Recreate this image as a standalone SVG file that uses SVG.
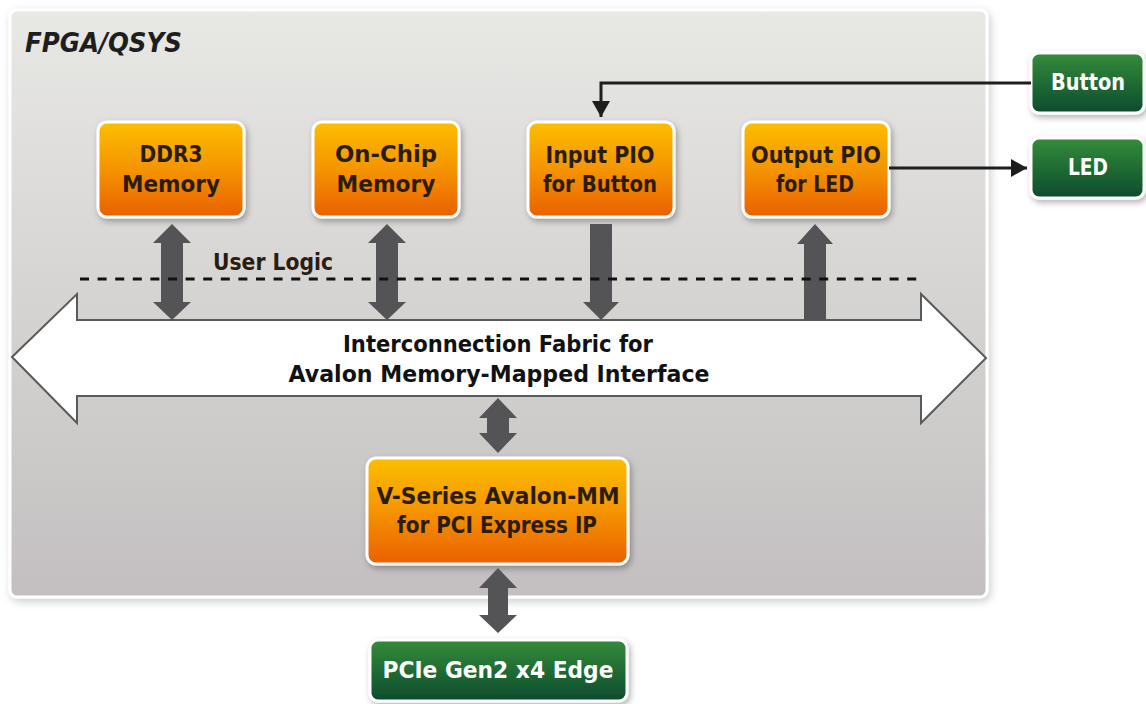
<svg xmlns="http://www.w3.org/2000/svg" width="1146" height="704" viewBox="0 0 1146 704">
  <defs>
    <linearGradient id="gCont" x1="0" y1="0" x2="0" y2="1">
      <stop offset="0" stop-color="#e8e8e5"/>
      <stop offset="1" stop-color="#c3bfc0"/>
    </linearGradient>
    <linearGradient id="gOrange" x1="0" y1="0" x2="0" y2="1">
      <stop offset="0" stop-color="#fcbf00"/>
      <stop offset="0.5" stop-color="#f59400"/>
      <stop offset="1" stop-color="#e96000"/>
    </linearGradient>
    <linearGradient id="gGreen" x1="0" y1="0" x2="0" y2="1">
      <stop offset="0" stop-color="#348c3a"/>
      <stop offset="1" stop-color="#0d4b2e"/>
    </linearGradient>
    <filter id="shadow" x="-10%" y="-10%" width="130%" height="140%">
      <feDropShadow dx="2" dy="3" stdDeviation="3" flood-color="#000" flood-opacity="0.3"/>
    </filter>
    <filter id="shadowC" x="-5%" y="-5%" width="110%" height="110%">
      <feDropShadow dx="2" dy="3" stdDeviation="4" flood-color="#000" flood-opacity="0.2"/>
    </filter>
    <marker id="head" markerUnits="userSpaceOnUse" markerWidth="18" markerHeight="18" refX="16" refY="9" orient="auto">
      <path d="M0,0 L16,9 L0,18 Z" fill="#1e1e1e"/>
    </marker>
  </defs>
  <style>
    .orange { fill: url(#gOrange); stroke: #ffffff; stroke-width: 3; filter: url(#shadow); }
    .green { fill: url(#gGreen); stroke: #ffffff; stroke-width: 3; filter: url(#shadow); }
    .t { font-family: "DejaVu Sans", "Liberation Sans", sans-serif; font-weight: bold; text-anchor: middle; }
    .tb { fill: #2a1c0e; font-size: 23px; }
    .tw { fill: #ffffff; font-size: 23px; }
    .bus { fill: #111111; font-size: 22.5px; }
    .gray { fill: #545457; }
    .wire { fill: none; stroke: #1e1e1e; stroke-width: 3; }
  </style>

  <g id="fpga">
    <rect x="10" y="10" width="977" height="587" rx="7" fill="url(#gCont)" stroke="#ffffff" stroke-width="3" filter="url(#shadowC)"/>
    <text x="25" y="52" font-family="DejaVu Sans, Liberation Sans, sans-serif" font-weight="bold" font-style="italic" font-size="27" fill="#1e1e1e" textLength="157" lengthAdjust="spacingAndGlyphs">FPGA/QSYS</text>
  </g>

  <g id="bus">
    <polygon points="12,357 77,294 77,320 921,320 921,294 986,358 921,423 921,396 77,396 77,423" fill="#ffffff" stroke="#5a5a5a" stroke-width="2"/>
    <text class="t bus" x="498" y="352" textLength="310" lengthAdjust="spacingAndGlyphs">Interconnection Fabric for</text>
    <text class="t bus" x="499" y="382" textLength="421" lengthAdjust="spacingAndGlyphs">Avalon Memory-Mapped Interface</text>
  </g>

  <g id="ddr3">
    <rect class="orange" x="98" y="122" width="146" height="95" rx="9"/>
    <text class="t tb" x="171" y="162" textLength="63" lengthAdjust="spacingAndGlyphs">DDR3</text>
    <text class="t tb" x="171" y="192" textLength="98" lengthAdjust="spacingAndGlyphs">Memory</text>
  </g>
  <g id="onchip">
    <rect class="orange" x="313" y="122" width="146" height="95" rx="9"/>
    <text class="t tb" x="386" y="162" textLength="102" lengthAdjust="spacingAndGlyphs">On-Chip</text>
    <text class="t tb" x="386" y="192" textLength="99" lengthAdjust="spacingAndGlyphs">Memory</text>
  </g>
  <g id="inputpio">
    <rect class="orange" x="528" y="122" width="146" height="95" rx="9"/>
    <text class="t tb" x="600" y="163" textLength="109" lengthAdjust="spacingAndGlyphs">Input PIO</text>
    <text class="t tb" x="600" y="192" textLength="114" lengthAdjust="spacingAndGlyphs">for Button</text>
  </g>
  <g id="outputpio">
    <rect class="orange" x="743" y="122" width="146" height="95" rx="9"/>
    <text class="t tb" x="816" y="163" textLength="130" lengthAdjust="spacingAndGlyphs">Output PIO</text>
    <text class="t tb" x="815" y="192" textLength="78" lengthAdjust="spacingAndGlyphs">for LED</text>
  </g>
  <g id="vseries">
    <rect class="orange" x="367" y="458" width="261" height="106" rx="9"/>
    <text class="t tb" x="498" y="504" textLength="243" lengthAdjust="spacingAndGlyphs">V-Series Avalon-MM</text>
    <text class="t tb" x="497" y="533" textLength="200" lengthAdjust="spacingAndGlyphs">for PCI Express IP</text>
  </g>

  <g id="button">
    <rect class="green" x="1031" y="53" width="113" height="60" rx="8"/>
    <text class="t tw" x="1088" y="90" textLength="74" lengthAdjust="spacingAndGlyphs">Button</text>
  </g>
  <g id="led">
    <rect class="green" x="1031" y="138" width="113" height="60" rx="8"/>
    <text class="t tw" x="1088" y="175" textLength="40" lengthAdjust="spacingAndGlyphs">LED</text>
  </g>
  <g id="pcie">
    <rect class="green" x="370" y="640" width="257" height="61" rx="8"/>
    <text class="t tw" x="498" y="678" textLength="231" lengthAdjust="spacingAndGlyphs">PCIe Gen2 x4 Edge</text>
  </g>

  <g id="connectors">
    <polygon class="gray" points="172,224 191,243 183,243 183,302 191,302 172,320 153,302 161,302 161,243 153,243"/>
    <polygon class="gray" points="387,224 406,243 398,243 398,302 406,302 387,320 368,302 376,302 376,243 368,243"/>
    <polygon class="gray" points="590,224 612,224 612,302 619,302 601,320 583,302 590,302"/>
    <polygon class="gray" points="815,224 833,244 826,244 826,320 804,320 804,244 797,244"/>
    <polygon class="gray" points="498,398 517,418 509,418 509,433 517,433 498,453 479,433 487,433 487,418 479,418"/>
    <polygon class="gray" points="498,568 517,588 508,588 508,615 517,615 498,633 479,615 488,615 488,588 479,588"/>
    <line x1="80" y1="279" x2="917" y2="279" stroke="#111111" stroke-width="3" stroke-dasharray="9 8.6"/>
    <text x="213" y="270" font-family="DejaVu Sans, Liberation Sans, sans-serif" font-weight="bold" font-size="22.5" fill="#2a1c0e" textLength="120" lengthAdjust="spacingAndGlyphs">User Logic</text>
    <polyline class="wire" points="1031,83 601,83 601,117" marker-end="url(#head)"/>
    <line class="wire" x1="889" y1="168" x2="1027" y2="168" marker-end="url(#head)"/>
  </g>
</svg>
